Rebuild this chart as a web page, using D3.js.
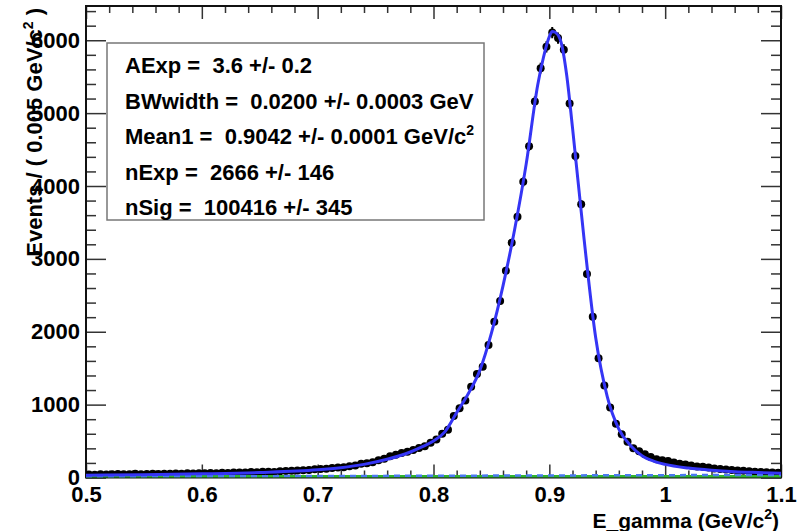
<!DOCTYPE html>
<head>
  <meta charset="utf-8">
  <title>E_gamma fit</title>
  <script src="https://d3js.org/d3.v7.min.js"></script>
  <style type="text/css">
    body { margin: 0; background: #fff; }
    svg { display: block; font-family: "Liberation Sans", Arial, sans-serif; font-weight: bold; }
    .tick line { stroke: #333; stroke-width: 1.5px; }
    .tick text { font-size: 22px; fill: #000; }
    .domain { display: none; }
  </style>
</head>
<body>
  <div id="graph-container"></div>

<script>
// ============ Data ============
  // histogram: 120 bins of 0.005 GeV from 0.5 to 1.1
  const binStart = 0.5, binWidth = 0.005;
  const counts = [
    42, 38, 45, 41, 44, 47, 43, 46, 50, 45,
    48, 52, 49, 53, 50, 55, 52, 57, 55, 60,
    57, 62, 60, 65, 63, 68, 70, 67, 74, 72,
    78, 80, 77, 86, 88, 92, 97, 101, 104, 112,
    118, 121, 130, 137, 142, 155, 163, 190, 196, 210,
    236, 258, 290, 312, 335, 352, 378, 405, 430, 478,
    520, 600, 655, 845, 949, 1055, 1246, 1420, 1520, 1818,
    2137, 2421, 2837, 3221, 3577, 4058, 4547, 5160, 5617, 5910,
    6105, 6030, 5868, 5133, 4410, 3748, 2791, 2206, 1635, 1264,
    960, 737, 595, 491, 400, 360, 318, 280, 250, 238,
    225, 205, 188, 180, 165, 152, 148, 136, 124, 118,
    110, 103, 96, 92, 86, 80, 77, 72, 68, 64
  ];

  // total fit curve (blue)
  const fitX = [0.50, 0.55, 0.60, 0.65, 0.70, 0.72, 0.74, 0.76, 0.78, 0.79, 0.80, 0.81, 0.82, 0.83,
                0.84, 0.85, 0.86, 0.87, 0.88, 0.89, 0.895, 0.90, 0.9025, 0.905, 0.91, 0.915, 0.92,
                0.93, 0.94, 0.95, 0.96, 0.97, 0.98, 0.99, 1.00, 1.02, 1.04, 1.06, 1.08, 1.10];
  const fitY = [30, 38, 50, 68, 105, 135, 180, 250, 350, 420, 500, 630, 890, 1150,
                1470, 1980, 2630, 3400, 4300, 5390, 5770, 6050, 6120, 6110, 5980, 5520, 4800,
                3270, 1920, 1110, 665, 440, 300, 225, 180, 130, 100, 80, 68, 58];

  // background components
  const bgX = [0.5, 0.6, 0.7, 0.8, 0.9, 1.0, 1.1];
  const expY = [14, 17, 20, 24, 28, 32, 36];     // dashed blue
  const flatY = [0, 0, 0, 0, 0, 0, 0];           // green

  // fit parameters box
  const parNames  = ["AExp", "BWwidth", "Mean1", "nExp", "nSig"];
  const parValues = ["3.6", "0.0200", "0.9042", "2666", "100416"];
  const parErrors = ["0.2", "0.0003", "0.0001", "146", "345"];
  const parUnits  = ["", "GeV", "GeV/c", "", ""];
  const parSup    = ["", "", "2", "", ""];

  const xTicks = [0.5, 0.6, 0.7, 0.8, 0.9, 1.0, 1.1];
  const xTickLabels = ["0.5", "0.6", "0.7", "0.8", "0.9", "1", "1.1"];
  const yTicks = [0, 1000, 2000, 3000, 4000, 5000, 6000];

// =================== Chart ======================
  let width = 801, height = 531;
  let frame = { left: 86, right: 781, top: 6, bottom: 477.5 };

  let x = d3.scaleLinear().domain([0.5, 1.1]).range([frame.left, frame.right]);
  let y = d3.scaleLinear().domain([0, 6470]).range([frame.bottom, frame.top]);

  let svg = d3.select("#graph-container").append("svg")
      .attr("width", width)
      .attr("height", height);

  svg.append("defs").append("clipPath").attr("id", "clip")
    .append("rect")
      .attr("x", frame.left).attr("y", frame.top)
      .attr("width", frame.right - frame.left)
      .attr("height", frame.bottom - frame.top);

  // minor tick positions
  let xMinor = d3.range(25, 56).filter(k => k % 5 !== 0).map(k => k * 0.02);
  let yMinor = d3.range(1, 33).filter(k => k % 5 !== 0).map(k => k * 200);

  // bottom axis
  svg.append("g")
      .attr("transform", "translate(0," + frame.bottom + ")")
      .call(d3.axisBottom(x).tickValues(xTicks).tickSize(-13).tickPadding(9)
        .tickFormat((d, i) => xTickLabels[i]));
  svg.append("g")
      .attr("transform", "translate(0," + frame.bottom + ")")
      .call(d3.axisBottom(x).tickValues(xMinor).tickSize(-7).tickFormat(""));
  // top axis (ticks only)
  svg.append("g")
      .attr("transform", "translate(0," + frame.top + ")")
      .call(d3.axisTop(x).tickValues(xTicks).tickSize(-13).tickFormat(""));
  svg.append("g")
      .attr("transform", "translate(0," + frame.top + ")")
      .call(d3.axisTop(x).tickValues(xMinor).tickSize(-7).tickFormat(""));

  // left axis
  svg.append("g")
      .attr("transform", "translate(" + frame.left + ",0)")
      .call(d3.axisLeft(y).tickValues(yTicks).tickSize(-20).tickPadding(6)
        .tickFormat(d3.format("d")));
  svg.append("g")
      .attr("transform", "translate(" + frame.left + ",0)")
      .call(d3.axisLeft(y).tickValues(yMinor).tickSize(-10).tickFormat(""));
  // right axis (ticks only)
  svg.append("g")
      .attr("transform", "translate(" + frame.right + ",0)")
      .call(d3.axisRight(y).tickValues(yTicks).tickSize(-20).tickFormat(""));
  svg.append("g")
      .attr("transform", "translate(" + frame.right + ",0)")
      .call(d3.axisRight(y).tickValues(yMinor).tickSize(-10).tickFormat(""));

  // frame
  svg.append("rect")
      .attr("x", frame.left).attr("y", frame.top)
      .attr("width", frame.right - frame.left)
      .attr("height", frame.bottom - frame.top)
      .attr("fill", "none")
      .attr("stroke", "#111")
      .attr("stroke-width", 2);

  let plot = svg.append("g").attr("clip-path", "url(#clip)");

  // data points with error bars
  let pts = counts.map((n, i) => ({ c: binStart + binWidth * (i + 0.5), n: n }));

  let pt = plot.selectAll(".pt")
      .data(pts)
    .enter().append("g")
      .attr("class", "pt");

  pt.append("line")
      .attr("x1", d => x(d.c - binWidth / 2))
      .attr("x2", d => x(d.c + binWidth / 2))
      .attr("y1", d => y(d.n))
      .attr("y2", d => y(d.n))
      .attr("stroke", "#000")
      .attr("stroke-width", 2);
  pt.append("line")
      .attr("x1", d => x(d.c))
      .attr("x2", d => x(d.c))
      .attr("y1", d => y(d.n - Math.sqrt(d.n)))
      .attr("y2", d => y(d.n + Math.sqrt(d.n)))
      .attr("stroke", "#000")
      .attr("stroke-width", 2);
  pt.append("circle")
      .attr("cx", d => x(d.c))
      .attr("cy", d => y(d.n))
      .attr("r", 4)
      .attr("fill", "#000");

  // curves
  let line = d3.line().curve(d3.curveMonotoneX);

  plot.append("path")
      .attr("d", line(bgX.map((v, i) => [x(v), y(flatY[i]) - 1])))
      .attr("fill", "none")
      .attr("stroke", "#2fb52f")
      .attr("stroke-width", 3);

  plot.append("path")
      .attr("d", line(bgX.map((v, i) => [x(v), y(expY[i])])))
      .attr("fill", "none")
      .attr("stroke", "#4a78f0")
      .attr("stroke-width", 2.5)
      .attr("stroke-dasharray", "6,5");

  plot.append("path")
      .attr("d", line(fitX.map((v, i) => [x(v), y(fitY[i])])))
      .attr("fill", "none")
      .attr("stroke", "#3535f5")
      .attr("stroke-width", 3);

  // parameter box
  let box = { x: 107, y: 43, w: 377, h: 177 };
  svg.append("rect")
      .attr("x", box.x).attr("y", box.y)
      .attr("width", box.w).attr("height", box.h)
      .attr("fill", "#fff")
      .attr("stroke", "#777")
      .attr("stroke-width", 1.5);

  let par = svg.append("g").selectAll("text")
      .data(parNames)
    .enter().append("text")
      .attr("x", 125)
      .attr("y", (d, i) => 73 + i * 35.5)
      .attr("font-size", 22)
      .style("white-space", "pre");

  par.append("tspan")
      .text((d, i) => d + " =  " + parValues[i] + " +/- " + parErrors[i] +
                      (parUnits[i] ? " " + parUnits[i] : ""));
  par.append("tspan")
      .attr("dy", -9)
      .attr("font-size", 14)
      .text((d, i) => parSup[i]);

  // axis titles
  let xt = svg.append("text")
      .attr("x", 779)
      .attr("y", 528)
      .attr("text-anchor", "end")
      .attr("font-size", 21);
  xt.append("tspan").text("E_gamma (GeV/c");
  xt.append("tspan").attr("dy", -9).attr("font-size", 14).text("2");
  xt.append("tspan").attr("dy", 9).text(")");

  let yt = svg.append("text")
      .attr("transform", "translate(42,8) rotate(-90)")
      .attr("text-anchor", "end")
      .attr("font-size", 22)
      .style("white-space", "pre");
  yt.append("tspan").text("Events / ( 0.005 GeV/c");
  yt.append("tspan").attr("dy", -9).attr("font-size", 14).text("2");
  yt.append("tspan").attr("dy", 9).text(" )");
</script>
</body>
